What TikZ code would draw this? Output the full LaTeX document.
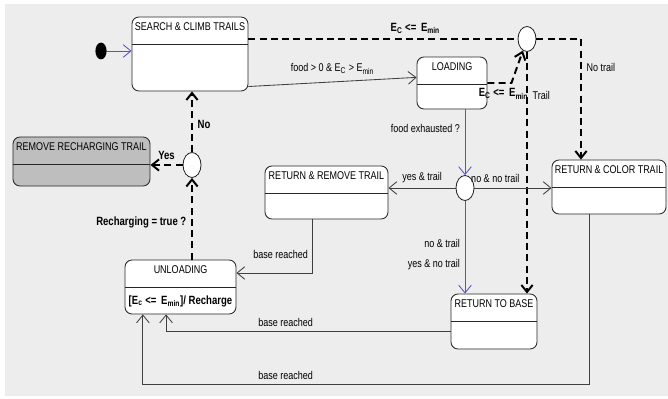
\documentclass[tikz,border=0pt]{standalone}
\usepackage{fontspec}
\setmainfont{Liberation Sans}[FakeStretch=0.8]
\usetikzlibrary{arrows.meta,shapes.geometric}
\definecolor{bggray}{RGB}{237,237,237}
\definecolor{boxgray}{RGB}{190,190,190}
\definecolor{ctrlblue}{RGB}{85,85,195}
\tikzset{
  state/.style={draw=black!85, fill=white, rounded corners=5pt, line width=0.6pt,
    path picture={\draw[black!85, line width=0.6pt]
      ([yshift=-0.675cm]path picture bounding box.north west) --
      ([yshift=-0.675cm]path picture bounding box.north east);}},
  title/.style={anchor=north, inner sep=0pt},
  choice/.style={ellipse, draw=black!85, fill=white, line width=0.6pt,
    minimum width=0.45cm, minimum height=0.625cm, inner sep=0pt},
  flow/.style={draw=black!75, line width=0.6pt, -{Straight Barb[length=5.5pt,width=9pt]}},
  ctrl/.style={flow, draw=ctrlblue},
  guardline/.style={draw=black, line width=1.4pt, dash pattern=on 5pt off 3pt},
  guard/.style={guardline, -{Straight Barb[length=5pt,width=8pt]}},
  glabel/.style={font=\fontsize{8.5}{10}\selectfont\bfseries},
}
% a state box with its name in the top part
\newcommand{\statebox}[6][]{
  \node[state, #1, minimum width=#4, minimum height=#5] (#2) at #3 {};
  \node[title] (#2-title) at ([yshift=-0.15cm]#2.north) {#6};
}

\begin{document}
\begin{tikzpicture}[x=0.025cm, y=-0.025cm, font=\fontsize{8}{9.5}\selectfont]

  \fill[bggray] (5,4) rectangle (668,396);
  \useasboundingbox (0,0) rectangle (668,399);

  % states
  \statebox{search}{(190,54)}{2.9cm}{1.85cm}{SEARCH \& CLIMB TRAILS}
  \statebox{loading}{(452,83)}{1.75cm}{1.3cm}{LOADING}
  \statebox[fill=boxgray]{remove}{(81.5,161.5)}{3.425cm}{1.225cm}{REMOVE RECHARGING TRAIL}
  \statebox{retremove}{(326.5,192.5)}{3.075cm}{1.325cm}{RETURN \& REMOVE TRAIL}
  \statebox{retcolor}{(609,187)}{2.85cm}{1.35cm}{RETURN \& COLOR TRAIL}
  \statebox{unloading}{(180.5,287)}{2.775cm}{1.35cm}{UNLOADING}
  \statebox{retbase}{(494,321.5)}{2.15cm}{1.375cm}{RETURN TO BASE}
  \node[glabel, inner sep=0pt] (recharge) at ([yshift=0.33cm]unloading.south)
    {[E\textsubscript{c} <= \,E\textsubscript{min}]/ Recharge};

  % start and choice points
  \node[ellipse, fill=black, minimum width=0.28cm, minimum height=0.42cm, inner sep=0pt] (init) at (101,51) {};
  \node[choice] (c1) at (527,39) {};
  \node[choice] (c2) at (192,165) {};
  \node[choice] (c3) at (465,188) {};

  % transitions
  \draw[ctrl] (init) -- (init -| search.west);
  \draw[guardline] (search.east |- c1) -- (c1)
    node[pos=0.62, above, glabel] {E\textsubscript{C} <= \,E\textsubscript{min}};
  \draw[flow] ([yshift=3.5pt]search.south east) -- ([yshift=4pt]loading.west)
    node[midway, above=2pt] {food > 0 \& E\textsubscript{C} > E\textsubscript{min}};
  \draw[guard] (loading.east) -- ++(24,0)
    node[midway, below, xshift=0.1cm, glabel] {E\textsubscript{C} <= \,E\textsubscript{min}} -- (c1);
  \draw[guard] (c1.east) -| ([xshift=-0.7cm]retcolor.north)
    node[pos=0.62, right] {No trail};
  \draw[guard] (c1.south) -- (c1.south |- retbase.north)
    node[pos=0.18, right] {Trail};
  \draw[ctrl] (loading.south -| c3) -- (c3.north)
    node[pos=0.29, left] {food exhausted ?};
  \draw[flow] (c3.west) -- (retremove.east |- c3)
    node[midway, above] {yes \& trail};
  \draw[flow] (c3.east) -- (retcolor.west |- c3)
    node[pos=0.27, above] {no \& no trail};
  \draw[ctrl] (c3.south) -- (c3.south |- retbase.north)
    node[pos=0.46, left] {no \& trail}
    node[pos=0.69, left] {yes \& no trail};
  \draw[flow] ([xshift=-0.34cm]retremove.south) |- ([yshift=0.35cm]unloading.east)
    node[pos=0.33, left] {base reached};
  \draw[flow] ([yshift=-0.26cm]retbase.west) -| ([xshift=-0.36cm]unloading.south)
    node[pos=0.29, above] {base reached};
  \draw[flow] ([xshift=-0.5cm]retcolor.south) -- ++(0,170) -| ([xshift=-0.94cm]unloading.south)
    node[pos=0.34, above] {base reached};
  \draw[guard] (c2.south |- unloading.north) -- (c2.south)
    node[pos=0.45, left, glabel] {Recharging = true ?};
  \draw[guard] (c2.north) -- (c2.north |- search.south)
    node[pos=0.46, right, glabel] {No};
  \draw[guard] (c2.west) -- (remove.east |- c2)
    node[midway, above, glabel] {Yes};

\end{tikzpicture}
\end{document}
